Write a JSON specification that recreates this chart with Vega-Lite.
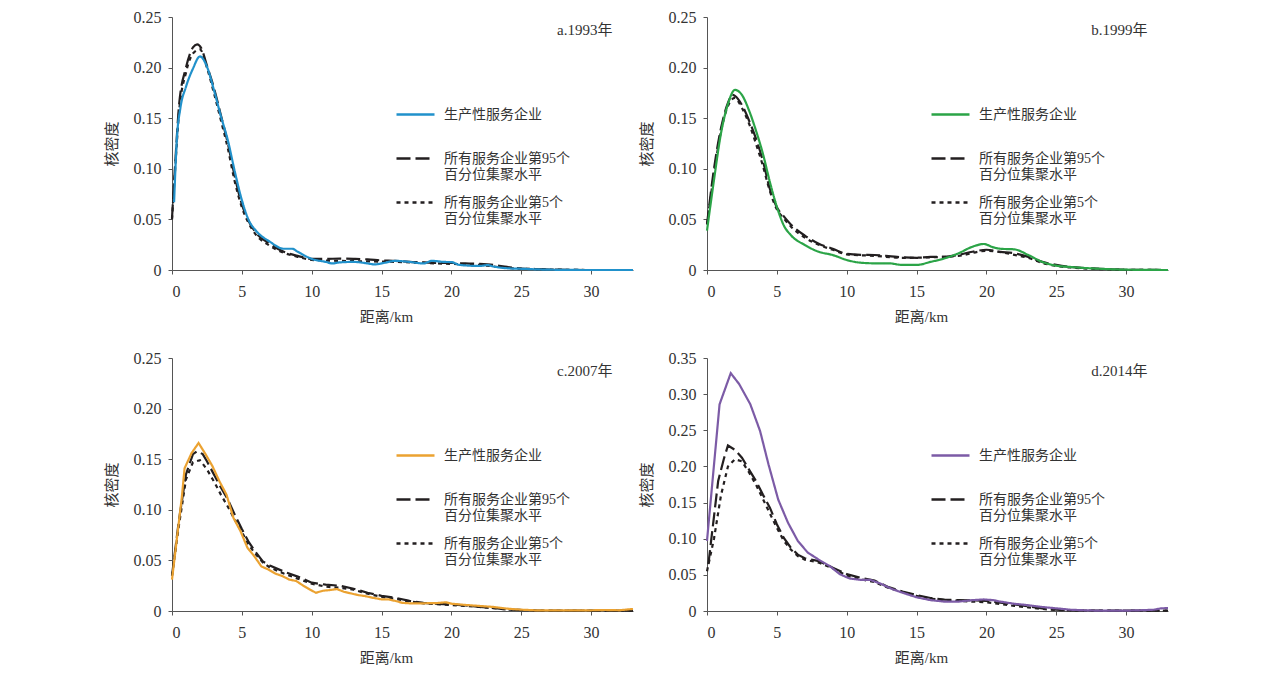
{
  "$schema": "https://vega.github.io/schema/vega-lite/v6.json",
  "description": "Kernel density of distances, four years",
  "background": "white",
  "padding": {"left": 104, "top": 9, "right": 0, "bottom": 0},
  "datasets": {
    "a": [
      {"s": "所有服务企业第95个|百分位集聚水平", "x": 0, "y": 0.051},
      {"s": "所有服务企业第95个|百分位集聚水平", "x": 0.25, "y": 0.11},
      {"s": "所有服务企业第95个|百分位集聚水平", "x": 0.5, "y": 0.162},
      {"s": "所有服务企业第95个|百分位集聚水平", "x": 1, "y": 0.2},
      {"s": "所有服务企业第95个|百分位集聚水平", "x": 1.5, "y": 0.22},
      {"s": "所有服务企业第95个|百分位集聚水平", "x": 1.8, "y": 0.223},
      {"s": "所有服务企业第95个|百分位集聚水平", "x": 2.1, "y": 0.219},
      {"s": "所有服务企业第95个|百分位集聚水平", "x": 2.5, "y": 0.202},
      {"s": "所有服务企业第95个|百分位集聚水平", "x": 3, "y": 0.18},
      {"s": "所有服务企业第95个|百分位集聚水平", "x": 3.5, "y": 0.153},
      {"s": "所有服务企业第95个|百分位集聚水平", "x": 4, "y": 0.125},
      {"s": "所有服务企业第95个|百分位集聚水平", "x": 4.5, "y": 0.092},
      {"s": "所有服务企业第95个|百分位集聚水平", "x": 5, "y": 0.065},
      {"s": "所有服务企业第95个|百分位集聚水平", "x": 5.5, "y": 0.048},
      {"s": "所有服务企业第95个|百分位集聚水平", "x": 6, "y": 0.037},
      {"s": "所有服务企业第95个|百分位集聚水平", "x": 7, "y": 0.026},
      {"s": "所有服务企业第95个|百分位集聚水平", "x": 8, "y": 0.018},
      {"s": "所有服务企业第95个|百分位集聚水平", "x": 9, "y": 0.014},
      {"s": "所有服务企业第95个|百分位集聚水平", "x": 10, "y": 0.011},
      {"s": "所有服务企业第95个|百分位集聚水平", "x": 11, "y": 0.011},
      {"s": "所有服务企业第95个|百分位集聚水平", "x": 12, "y": 0.0112},
      {"s": "所有服务企业第95个|百分位集聚水平", "x": 13, "y": 0.011},
      {"s": "所有服务企业第95个|百分位集聚水平", "x": 14, "y": 0.0105},
      {"s": "所有服务企业第95个|百分位集聚水平", "x": 15, "y": 0.0095},
      {"s": "所有服务企业第95个|百分位集聚水平", "x": 16, "y": 0.009},
      {"s": "所有服务企业第95个|百分位集聚水平", "x": 17, "y": 0.008},
      {"s": "所有服务企业第95个|百分位集聚水平", "x": 18, "y": 0.0075},
      {"s": "所有服务企业第95个|百分位集聚水平", "x": 19, "y": 0.007},
      {"s": "所有服务企业第95个|百分位集聚水平", "x": 20, "y": 0.007},
      {"s": "所有服务企业第95个|百分位集聚水平", "x": 21, "y": 0.0065},
      {"s": "所有服务企业第95个|百分位集聚水平", "x": 22, "y": 0.006},
      {"s": "所有服务企业第95个|百分位集聚水平", "x": 23, "y": 0.005},
      {"s": "所有服务企业第95个|百分位集聚水平", "x": 24, "y": 0.003},
      {"s": "所有服务企业第95个|百分位集聚水平", "x": 25, "y": 0.0015},
      {"s": "所有服务企业第95个|百分位集聚水平", "x": 27, "y": 0.0005},
      {"s": "所有服务企业第95个|百分位集聚水平", "x": 30, "y": 0},
      {"s": "所有服务企业第95个|百分位集聚水平", "x": 33, "y": 0},
      {"s": "所有服务企业第5个|百分位集聚水平", "x": 0, "y": 0.05},
      {"s": "所有服务企业第5个|百分位集聚水平", "x": 0.25, "y": 0.105},
      {"s": "所有服务企业第5个|百分位集聚水平", "x": 0.5, "y": 0.155},
      {"s": "所有服务企业第5个|百分位集聚水平", "x": 1, "y": 0.195},
      {"s": "所有服务企业第5个|百分位集聚水平", "x": 1.5, "y": 0.214},
      {"s": "所有服务企业第5个|百分位集聚水平", "x": 2, "y": 0.218},
      {"s": "所有服务企业第5个|百分位集聚水平", "x": 2.5, "y": 0.2},
      {"s": "所有服务企业第5个|百分位集聚水平", "x": 3, "y": 0.175},
      {"s": "所有服务企业第5个|百分位集聚水平", "x": 3.5, "y": 0.148},
      {"s": "所有服务企业第5个|百分位集聚水平", "x": 4, "y": 0.12},
      {"s": "所有服务企业第5个|百分位集聚水平", "x": 4.5, "y": 0.087},
      {"s": "所有服务企业第5个|百分位集聚水平", "x": 5, "y": 0.062},
      {"s": "所有服务企业第5个|百分位集聚水平", "x": 5.5, "y": 0.046},
      {"s": "所有服务企业第5个|百分位集聚水平", "x": 6, "y": 0.035},
      {"s": "所有服务企业第5个|百分位集聚水平", "x": 7, "y": 0.024},
      {"s": "所有服务企业第5个|百分位集聚水平", "x": 8, "y": 0.017},
      {"s": "所有服务企业第5个|百分位集聚水平", "x": 9, "y": 0.013},
      {"s": "所有服务企业第5个|百分位集聚水平", "x": 10, "y": 0.01},
      {"s": "所有服务企业第5个|百分位集聚水平", "x": 12, "y": 0.009},
      {"s": "所有服务企业第5个|百分位集聚水平", "x": 14, "y": 0.0085},
      {"s": "所有服务企业第5个|百分位集聚水平", "x": 16, "y": 0.008},
      {"s": "所有服务企业第5个|百分位集聚水平", "x": 18, "y": 0.007},
      {"s": "所有服务企业第5个|百分位集聚水平", "x": 20, "y": 0.006},
      {"s": "所有服务企业第5个|百分位集聚水平", "x": 22, "y": 0.005},
      {"s": "所有服务企业第5个|百分位集聚水平", "x": 24, "y": 0.002},
      {"s": "所有服务企业第5个|百分位集聚水平", "x": 26, "y": 0.001},
      {"s": "所有服务企业第5个|百分位集聚水平", "x": 30, "y": 0},
      {"s": "所有服务企业第5个|百分位集聚水平", "x": 33, "y": 0},
      {"s": "生产性服务企业", "x": 0.15, "y": 0.067},
      {"s": "生产性服务企业", "x": 0.35, "y": 0.13},
      {"s": "生产性服务企业", "x": 0.6, "y": 0.16},
      {"s": "生产性服务企业", "x": 1, "y": 0.181},
      {"s": "生产性服务企业", "x": 1.5, "y": 0.199},
      {"s": "生产性服务企业", "x": 2, "y": 0.211},
      {"s": "生产性服务企业", "x": 2.5, "y": 0.201},
      {"s": "生产性服务企业", "x": 3, "y": 0.178},
      {"s": "生产性服务企业", "x": 3.5, "y": 0.152},
      {"s": "生产性服务企业", "x": 4, "y": 0.128},
      {"s": "生产性服务企业", "x": 4.5, "y": 0.097},
      {"s": "生产性服务企业", "x": 5, "y": 0.069},
      {"s": "生产性服务企业", "x": 5.5, "y": 0.049},
      {"s": "生产性服务企业", "x": 6, "y": 0.039},
      {"s": "生产性服务企业", "x": 7, "y": 0.028},
      {"s": "生产性服务企业", "x": 8, "y": 0.021},
      {"s": "生产性服务企业", "x": 8.6, "y": 0.021},
      {"s": "生产性服务企业", "x": 9, "y": 0.018},
      {"s": "生产性服务企业", "x": 10, "y": 0.011},
      {"s": "生产性服务企业", "x": 11, "y": 0.008},
      {"s": "生产性服务企业", "x": 11.5, "y": 0.0065},
      {"s": "生产性服务企业", "x": 12, "y": 0.0075},
      {"s": "生产性服务企业", "x": 13, "y": 0.008},
      {"s": "生产性服务企业", "x": 14, "y": 0.0065},
      {"s": "生产性服务企业", "x": 14.5, "y": 0.0055},
      {"s": "生产性服务企业", "x": 15, "y": 0.0065},
      {"s": "生产性服务企业", "x": 16, "y": 0.009},
      {"s": "生产性服务企业", "x": 17, "y": 0.008},
      {"s": "生产性服务企业", "x": 18, "y": 0.0065},
      {"s": "生产性服务企业", "x": 18.6, "y": 0.009},
      {"s": "生产性服务企业", "x": 19.5, "y": 0.008},
      {"s": "生产性服务企业", "x": 20, "y": 0.0078},
      {"s": "生产性服务企业", "x": 20.6, "y": 0.005},
      {"s": "生产性服务企业", "x": 22, "y": 0.004},
      {"s": "生产性服务企业", "x": 22.6, "y": 0.0048},
      {"s": "生产性服务企业", "x": 23, "y": 0.0035},
      {"s": "生产性服务企业", "x": 24, "y": 0.0017},
      {"s": "生产性服务企业", "x": 25, "y": 0.0012},
      {"s": "生产性服务企业", "x": 27, "y": 0.0003},
      {"s": "生产性服务企业", "x": 30, "y": 0},
      {"s": "生产性服务企业", "x": 33, "y": 0}
    ],
    "b": [
      {"s": "所有服务企业第95个|百分位集聚水平", "x": 0, "y": 0.045},
      {"s": "所有服务企业第95个|百分位集聚水平", "x": 0.5, "y": 0.1},
      {"s": "所有服务企业第95个|百分位集聚水平", "x": 1, "y": 0.14},
      {"s": "所有服务企业第95个|百分位集聚水平", "x": 1.5, "y": 0.165},
      {"s": "所有服务企业第95个|百分位集聚水平", "x": 1.8, "y": 0.173},
      {"s": "所有服务企业第95个|百分位集聚水平", "x": 2, "y": 0.172},
      {"s": "所有服务企业第95个|百分位集聚水平", "x": 2.5, "y": 0.163},
      {"s": "所有服务企业第95个|百分位集聚水平", "x": 3, "y": 0.148},
      {"s": "所有服务企业第95个|百分位集聚水平", "x": 3.5, "y": 0.13},
      {"s": "所有服务企业第95个|百分位集聚水平", "x": 4, "y": 0.108},
      {"s": "所有服务企业第95个|百分位集聚水平", "x": 4.5, "y": 0.08},
      {"s": "所有服务企业第95个|百分位集聚水平", "x": 5, "y": 0.062},
      {"s": "所有服务企业第95个|百分位集聚水平", "x": 5.5, "y": 0.053},
      {"s": "所有服务企业第95个|百分位集聚水平", "x": 6, "y": 0.045},
      {"s": "所有服务企业第95个|百分位集聚水平", "x": 7, "y": 0.034},
      {"s": "所有服务企业第95个|百分位集聚水平", "x": 8, "y": 0.026},
      {"s": "所有服务企业第95个|百分位集聚水平", "x": 9, "y": 0.021},
      {"s": "所有服务企业第95个|百分位集聚水平", "x": 10, "y": 0.016},
      {"s": "所有服务企业第95个|百分位集聚水平", "x": 11, "y": 0.015},
      {"s": "所有服务企业第95个|百分位集聚水平", "x": 12, "y": 0.0148},
      {"s": "所有服务企业第95个|百分位集聚水平", "x": 13, "y": 0.0138},
      {"s": "所有服务企业第95个|百分位集聚水平", "x": 14, "y": 0.0125},
      {"s": "所有服务企业第95个|百分位集聚水平", "x": 15, "y": 0.012},
      {"s": "所有服务企业第95个|百分位集聚水平", "x": 16, "y": 0.013},
      {"s": "所有服务企业第95个|百分位集聚水平", "x": 17, "y": 0.013},
      {"s": "所有服务企业第95个|百分位集聚水平", "x": 18, "y": 0.015},
      {"s": "所有服务企业第95个|百分位集聚水平", "x": 19, "y": 0.018},
      {"s": "所有服务企业第95个|百分位集聚水平", "x": 20, "y": 0.02},
      {"s": "所有服务企业第95个|百分位集聚水平", "x": 21, "y": 0.018},
      {"s": "所有服务企业第95个|百分位集聚水平", "x": 22, "y": 0.0165},
      {"s": "所有服务企业第95个|百分位集聚水平", "x": 23, "y": 0.013},
      {"s": "所有服务企业第95个|百分位集聚水平", "x": 24, "y": 0.008},
      {"s": "所有服务企业第95个|百分位集聚水平", "x": 25, "y": 0.005},
      {"s": "所有服务企业第95个|百分位集聚水平", "x": 26, "y": 0.003},
      {"s": "所有服务企业第95个|百分位集聚水平", "x": 27, "y": 0.002},
      {"s": "所有服务企业第95个|百分位集聚水平", "x": 28, "y": 0.0013},
      {"s": "所有服务企业第95个|百分位集聚水平", "x": 30, "y": 0.0003},
      {"s": "所有服务企业第95个|百分位集聚水平", "x": 33, "y": 0},
      {"s": "所有服务企业第5个|百分位集聚水平", "x": 0, "y": 0.045},
      {"s": "所有服务企业第5个|百分位集聚水平", "x": 0.5, "y": 0.095},
      {"s": "所有服务企业第5个|百分位集聚水平", "x": 1, "y": 0.137},
      {"s": "所有服务企业第5个|百分位集聚水平", "x": 1.5, "y": 0.162},
      {"s": "所有服务企业第5个|百分位集聚水平", "x": 2, "y": 0.17},
      {"s": "所有服务企业第5个|百分位集聚水平", "x": 2.5, "y": 0.16},
      {"s": "所有服务企业第5个|百分位集聚水平", "x": 3, "y": 0.145},
      {"s": "所有服务企业第5个|百分位集聚水平", "x": 3.5, "y": 0.125},
      {"s": "所有服务企业第5个|百分位集聚水平", "x": 4, "y": 0.103},
      {"s": "所有服务企业第5个|百分位集聚水平", "x": 4.5, "y": 0.078},
      {"s": "所有服务企业第5个|百分位集聚水平", "x": 5, "y": 0.06},
      {"s": "所有服务企业第5个|百分位集聚水平", "x": 5.5, "y": 0.051},
      {"s": "所有服务企业第5个|百分位集聚水平", "x": 6, "y": 0.043},
      {"s": "所有服务企业第5个|百分位集聚水平", "x": 7, "y": 0.032},
      {"s": "所有服务企业第5个|百分位集聚水平", "x": 8, "y": 0.025},
      {"s": "所有服务企业第5个|百分位集聚水平", "x": 9, "y": 0.02},
      {"s": "所有服务企业第5个|百分位集聚水平", "x": 10, "y": 0.0155},
      {"s": "所有服务企业第5个|百分位集聚水平", "x": 12, "y": 0.014},
      {"s": "所有服务企业第5个|百分位集聚水平", "x": 14, "y": 0.012},
      {"s": "所有服务企业第5个|百分位集聚水平", "x": 16, "y": 0.0125},
      {"s": "所有服务企业第5个|百分位集聚水平", "x": 18, "y": 0.014},
      {"s": "所有服务企业第5个|百分位集聚水平", "x": 20, "y": 0.019},
      {"s": "所有服务企业第5个|百分位集聚水平", "x": 22, "y": 0.015},
      {"s": "所有服务企业第5个|百分位集聚水平", "x": 23, "y": 0.012},
      {"s": "所有服务企业第5个|百分位集聚水平", "x": 24, "y": 0.007},
      {"s": "所有服务企业第5个|百分位集聚水平", "x": 25, "y": 0.004},
      {"s": "所有服务企业第5个|百分位集聚水平", "x": 26, "y": 0.0025},
      {"s": "所有服务企业第5个|百分位集聚水平", "x": 28, "y": 0.001},
      {"s": "所有服务企业第5个|百分位集聚水平", "x": 30, "y": 0.0002},
      {"s": "所有服务企业第5个|百分位集聚水平", "x": 33, "y": 0},
      {"s": "生产性服务企业", "x": 0, "y": 0.039},
      {"s": "生产性服务企业", "x": 0.5, "y": 0.089},
      {"s": "生产性服务企业", "x": 1, "y": 0.135},
      {"s": "生产性服务企业", "x": 1.5, "y": 0.164},
      {"s": "生产性服务企业", "x": 2, "y": 0.178},
      {"s": "生产性服务企业", "x": 2.5, "y": 0.173},
      {"s": "生产性服务企业", "x": 3, "y": 0.158},
      {"s": "生产性服务企业", "x": 3.5, "y": 0.138},
      {"s": "生产性服务企业", "x": 4, "y": 0.115},
      {"s": "生产性服务企业", "x": 4.5, "y": 0.087},
      {"s": "生产性服务企业", "x": 5, "y": 0.0625},
      {"s": "生产性服务企业", "x": 5.5, "y": 0.044},
      {"s": "生产性服务企业", "x": 6, "y": 0.0345},
      {"s": "生产性服务企业", "x": 7, "y": 0.0247},
      {"s": "生产性服务企业", "x": 8, "y": 0.018},
      {"s": "生产性服务企业", "x": 9, "y": 0.0148},
      {"s": "生产性服务企业", "x": 10, "y": 0.0099},
      {"s": "生产性服务企业", "x": 11, "y": 0.0072},
      {"s": "生产性服务企业", "x": 12, "y": 0.0066},
      {"s": "生产性服务企业", "x": 13, "y": 0.0066},
      {"s": "生产性服务企业", "x": 14, "y": 0.005},
      {"s": "生产性服务企业", "x": 15, "y": 0.005},
      {"s": "生产性服务企业", "x": 16, "y": 0.008},
      {"s": "生产性服务企业", "x": 17, "y": 0.0115},
      {"s": "生产性服务企业", "x": 18, "y": 0.0165},
      {"s": "生产性服务企业", "x": 19, "y": 0.023},
      {"s": "生产性服务企业", "x": 19.8, "y": 0.0257},
      {"s": "生产性服务企业", "x": 20.5, "y": 0.0224},
      {"s": "生产性服务企业", "x": 21, "y": 0.021},
      {"s": "生产性服务企业", "x": 22, "y": 0.0204},
      {"s": "生产性服务企业", "x": 23, "y": 0.0148},
      {"s": "生产性服务企业", "x": 24, "y": 0.008},
      {"s": "生产性服务企业", "x": 25, "y": 0.0043},
      {"s": "生产性服务企业", "x": 26, "y": 0.003},
      {"s": "生产性服务企业", "x": 27, "y": 0.002},
      {"s": "生产性服务企业", "x": 28, "y": 0.0013},
      {"s": "生产性服务企业", "x": 30, "y": 0.0003},
      {"s": "生产性服务企业", "x": 33, "y": 0}
    ],
    "c": [
      {"s": "所有服务企业第95个|百分位集聚水平", "x": 0, "y": 0.035},
      {"s": "所有服务企业第95个|百分位集聚水平", "x": 0.5, "y": 0.09},
      {"s": "所有服务企业第95个|百分位集聚水平", "x": 1, "y": 0.135},
      {"s": "所有服务企业第95个|百分位集聚水平", "x": 1.5, "y": 0.155},
      {"s": "所有服务企业第95个|百分位集聚水平", "x": 1.8, "y": 0.158},
      {"s": "所有服务企业第95个|百分位集聚水平", "x": 2.2, "y": 0.155},
      {"s": "所有服务企业第95个|百分位集聚水平", "x": 2.5, "y": 0.148},
      {"s": "所有服务企业第95个|百分位集聚水平", "x": 3, "y": 0.135},
      {"s": "所有服务企业第95个|百分位集聚水平", "x": 3.5, "y": 0.122},
      {"s": "所有服务企业第95个|百分位集聚水平", "x": 4, "y": 0.11},
      {"s": "所有服务企业第95个|百分位集聚水平", "x": 4.5, "y": 0.095},
      {"s": "所有服务企业第95个|百分位集聚水平", "x": 5, "y": 0.081},
      {"s": "所有服务企业第95个|百分位集聚水平", "x": 5.5, "y": 0.068},
      {"s": "所有服务企业第95个|百分位集聚水平", "x": 6, "y": 0.058},
      {"s": "所有服务企业第95个|百分位集聚水平", "x": 6.5, "y": 0.049},
      {"s": "所有服务企业第95个|百分位集聚水平", "x": 7, "y": 0.045},
      {"s": "所有服务企业第95个|百分位集聚水平", "x": 8, "y": 0.039},
      {"s": "所有服务企业第95个|百分位集聚水平", "x": 9, "y": 0.034},
      {"s": "所有服务企业第95个|百分位集聚水平", "x": 10, "y": 0.028},
      {"s": "所有服务企业第95个|百分位集聚水平", "x": 11, "y": 0.026},
      {"s": "所有服务企业第95个|百分位集聚水平", "x": 12, "y": 0.025},
      {"s": "所有服务企业第95个|百分位集聚水平", "x": 13, "y": 0.022},
      {"s": "所有服务企业第95个|百分位集聚水平", "x": 14, "y": 0.018},
      {"s": "所有服务企业第95个|百分位集聚水平", "x": 15, "y": 0.015},
      {"s": "所有服务企业第95个|百分位集聚水平", "x": 16, "y": 0.013},
      {"s": "所有服务企业第95个|百分位集聚水平", "x": 17, "y": 0.01},
      {"s": "所有服务企业第95个|百分位集聚水平", "x": 18, "y": 0.008},
      {"s": "所有服务企业第95个|百分位集聚水平", "x": 19, "y": 0.007},
      {"s": "所有服务企业第95个|百分位集聚水平", "x": 20, "y": 0.0065},
      {"s": "所有服务企业第95个|百分位集聚水平", "x": 21, "y": 0.0055},
      {"s": "所有服务企业第95个|百分位集聚水平", "x": 22, "y": 0.004},
      {"s": "所有服务企业第95个|百分位集聚水平", "x": 23, "y": 0.003},
      {"s": "所有服务企业第95个|百分位集聚水平", "x": 24, "y": 0.0015},
      {"s": "所有服务企业第95个|百分位集聚水平", "x": 25, "y": 0.0008},
      {"s": "所有服务企业第95个|百分位集聚水平", "x": 27, "y": 0.0003},
      {"s": "所有服务企业第95个|百分位集聚水平", "x": 30, "y": 0.0003},
      {"s": "所有服务企业第95个|百分位集聚水平", "x": 33, "y": 0.0003},
      {"s": "所有服务企业第5个|百分位集聚水平", "x": 0, "y": 0.035},
      {"s": "所有服务企业第5个|百分位集聚水平", "x": 0.5, "y": 0.085},
      {"s": "所有服务企业第5个|百分位集聚水平", "x": 1, "y": 0.13},
      {"s": "所有服务企业第5个|百分位集聚水平", "x": 1.5, "y": 0.147},
      {"s": "所有服务企业第5个|百分位集聚水平", "x": 2, "y": 0.149},
      {"s": "所有服务企业第5个|百分位集聚水平", "x": 2.5, "y": 0.14},
      {"s": "所有服务企业第5个|百分位集聚水平", "x": 3, "y": 0.128},
      {"s": "所有服务企业第5个|百分位集聚水平", "x": 3.5, "y": 0.115},
      {"s": "所有服务企业第5个|百分位集聚水平", "x": 4, "y": 0.103},
      {"s": "所有服务企业第5个|百分位集聚水平", "x": 4.5, "y": 0.09},
      {"s": "所有服务企业第5个|百分位集聚水平", "x": 5, "y": 0.078},
      {"s": "所有服务企业第5个|百分位集聚水平", "x": 5.5, "y": 0.065},
      {"s": "所有服务企业第5个|百分位集聚水平", "x": 6, "y": 0.056},
      {"s": "所有服务企业第5个|百分位集聚水平", "x": 6.5, "y": 0.048},
      {"s": "所有服务企业第5个|百分位集聚水平", "x": 7, "y": 0.043},
      {"s": "所有服务企业第5个|百分位集聚水平", "x": 8, "y": 0.037},
      {"s": "所有服务企业第5个|百分位集聚水平", "x": 9, "y": 0.032},
      {"s": "所有服务企业第5个|百分位集聚水平", "x": 10, "y": 0.027},
      {"s": "所有服务企业第5个|百分位集聚水平", "x": 11, "y": 0.024},
      {"s": "所有服务企业第5个|百分位集聚水平", "x": 12, "y": 0.023},
      {"s": "所有服务企业第5个|百分位集聚水平", "x": 13, "y": 0.021},
      {"s": "所有服务企业第5个|百分位集聚水平", "x": 14, "y": 0.017},
      {"s": "所有服务企业第5个|百分位集聚水平", "x": 15, "y": 0.014},
      {"s": "所有服务企业第5个|百分位集聚水平", "x": 16, "y": 0.012},
      {"s": "所有服务企业第5个|百分位集聚水平", "x": 17, "y": 0.0095},
      {"s": "所有服务企业第5个|百分位集聚水平", "x": 18, "y": 0.0075},
      {"s": "所有服务企业第5个|百分位集聚水平", "x": 20, "y": 0.006},
      {"s": "所有服务企业第5个|百分位集聚水平", "x": 22, "y": 0.004},
      {"s": "所有服务企业第5个|百分位集聚水平", "x": 24, "y": 0.0015},
      {"s": "所有服务企业第5个|百分位集聚水平", "x": 26, "y": 0.0005},
      {"s": "所有服务企业第5个|百分位集聚水平", "x": 30, "y": 0.0003},
      {"s": "所有服务企业第5个|百分位集聚水平", "x": 33, "y": 0.0003},
      {"s": "生产性服务企业", "x": 0, "y": 0.031},
      {"s": "生产性服务企业", "x": 0.7, "y": 0.112},
      {"s": "生产性服务企业", "x": 0.9, "y": 0.141},
      {"s": "生产性服务企业", "x": 1.4, "y": 0.156},
      {"s": "生产性服务企业", "x": 1.9, "y": 0.166},
      {"s": "生产性服务企业", "x": 2.4, "y": 0.155},
      {"s": "生产性服务企业", "x": 2.9, "y": 0.143},
      {"s": "生产性服务企业", "x": 3.4, "y": 0.128},
      {"s": "生产性服务企业", "x": 3.9, "y": 0.115},
      {"s": "生产性服务企业", "x": 4.4, "y": 0.092},
      {"s": "生产性服务企业", "x": 4.9, "y": 0.079},
      {"s": "生产性服务企业", "x": 5.4, "y": 0.0625},
      {"s": "生产性服务企业", "x": 5.9, "y": 0.054},
      {"s": "生产性服务企业", "x": 6.4, "y": 0.044},
      {"s": "生产性服务企业", "x": 6.9, "y": 0.041},
      {"s": "生产性服务企业", "x": 7.4, "y": 0.037},
      {"s": "生产性服务企业", "x": 7.9, "y": 0.0345},
      {"s": "生产性服务企业", "x": 8.4, "y": 0.031},
      {"s": "生产性服务企业", "x": 8.9, "y": 0.0296},
      {"s": "生产性服务企业", "x": 9.4, "y": 0.025},
      {"s": "生产性服务企业", "x": 9.9, "y": 0.021},
      {"s": "生产性服务企业", "x": 10.3, "y": 0.018},
      {"s": "生产性服务企业", "x": 10.8, "y": 0.02},
      {"s": "生产性服务企业", "x": 11.3, "y": 0.0207},
      {"s": "生产性服务企业", "x": 11.8, "y": 0.0217},
      {"s": "生产性服务企业", "x": 12.3, "y": 0.019},
      {"s": "生产性服务企业", "x": 12.8, "y": 0.0174},
      {"s": "生产性服务企业", "x": 13.3, "y": 0.0158},
      {"s": "生产性服务企业", "x": 13.8, "y": 0.0148},
      {"s": "生产性服务企业", "x": 14.4, "y": 0.013},
      {"s": "生产性服务企业", "x": 15, "y": 0.0115},
      {"s": "生产性服务企业", "x": 15.5, "y": 0.0115},
      {"s": "生产性服务企业", "x": 16, "y": 0.0099},
      {"s": "生产性服务企业", "x": 16.5, "y": 0.008},
      {"s": "生产性服务企业", "x": 17, "y": 0.0076},
      {"s": "生产性服务企业", "x": 18, "y": 0.0076},
      {"s": "生产性服务企业", "x": 19, "y": 0.0079},
      {"s": "生产性服务企业", "x": 19.6, "y": 0.0086},
      {"s": "生产性服务企业", "x": 20, "y": 0.0072},
      {"s": "生产性服务企业", "x": 21, "y": 0.006},
      {"s": "生产性服务企业", "x": 22, "y": 0.005},
      {"s": "生产性服务企业", "x": 23, "y": 0.004},
      {"s": "生产性服务企业", "x": 24, "y": 0.0023},
      {"s": "生产性服务企业", "x": 25, "y": 0.0013},
      {"s": "生产性服务企业", "x": 26, "y": 0.0007},
      {"s": "生产性服务企业", "x": 28, "y": 0.0007},
      {"s": "生产性服务企业", "x": 30, "y": 0.0007},
      {"s": "生产性服务企业", "x": 31, "y": 0.001},
      {"s": "生产性服务企业", "x": 32, "y": 0.0007},
      {"s": "生产性服务企业", "x": 33, "y": 0.002}
    ],
    "d": [
      {"s": "所有服务企业第95个|百分位集聚水平", "x": 0.1, "y": 0.065},
      {"s": "所有服务企业第95个|百分位集聚水平", "x": 0.8, "y": 0.18},
      {"s": "所有服务企业第95个|百分位集聚水平", "x": 1.2, "y": 0.21},
      {"s": "所有服务企业第95个|百分位集聚水平", "x": 1.5, "y": 0.229},
      {"s": "所有服务企业第95个|百分位集聚水平", "x": 2, "y": 0.223},
      {"s": "所有服务企业第95个|百分位集聚水平", "x": 2.5, "y": 0.212},
      {"s": "所有服务企业第95个|百分位集聚水平", "x": 3, "y": 0.196},
      {"s": "所有服务企业第95个|百分位集聚水平", "x": 3.5, "y": 0.18},
      {"s": "所有服务企业第95个|百分位集聚水平", "x": 4, "y": 0.161},
      {"s": "所有服务企业第95个|百分位集聚水平", "x": 4.5, "y": 0.143},
      {"s": "所有服务企业第95个|百分位集聚水平", "x": 5, "y": 0.12},
      {"s": "所有服务企业第95个|百分位集聚水平", "x": 5.5, "y": 0.101},
      {"s": "所有服务企业第95个|百分位集聚水平", "x": 6, "y": 0.0876},
      {"s": "所有服务企业第95个|百分位集聚水平", "x": 6.5, "y": 0.078},
      {"s": "所有服务企业第95个|百分位集聚水平", "x": 7, "y": 0.073},
      {"s": "所有服务企业第95个|百分位集聚水平", "x": 8, "y": 0.069},
      {"s": "所有服务企业第95个|百分位集聚水平", "x": 9, "y": 0.06},
      {"s": "所有服务企业第95个|百分位集聚水平", "x": 10, "y": 0.051},
      {"s": "所有服务企业第95个|百分位集聚水平", "x": 11, "y": 0.046},
      {"s": "所有服务企业第95个|百分位集聚水平", "x": 12, "y": 0.042},
      {"s": "所有服务企业第95个|百分位集聚水平", "x": 13, "y": 0.033},
      {"s": "所有服务企业第95个|百分位集聚水平", "x": 14, "y": 0.027},
      {"s": "所有服务企业第95个|百分位集聚水平", "x": 15, "y": 0.022},
      {"s": "所有服务企业第95个|百分位集聚水平", "x": 16, "y": 0.018},
      {"s": "所有服务企业第95个|百分位集聚水平", "x": 17, "y": 0.0157},
      {"s": "所有服务企业第95个|百分位集聚水平", "x": 18, "y": 0.015},
      {"s": "所有服务企业第95个|百分位集聚水平", "x": 19, "y": 0.0147},
      {"s": "所有服务企业第95个|百分位集聚水平", "x": 20, "y": 0.0138},
      {"s": "所有服务企业第95个|百分位集聚水平", "x": 21, "y": 0.0115},
      {"s": "所有服务企业第95个|百分位集聚水平", "x": 22, "y": 0.0092},
      {"s": "所有服务企业第95个|百分位集聚水平", "x": 23, "y": 0.0065},
      {"s": "所有服务企业第95个|百分位集聚水平", "x": 24, "y": 0.0037},
      {"s": "所有服务企业第95个|百分位集聚水平", "x": 25, "y": 0.0018},
      {"s": "所有服务企业第95个|百分位集聚水平", "x": 26, "y": 0.001},
      {"s": "所有服务企业第95个|百分位集聚水平", "x": 28, "y": 0.0005},
      {"s": "所有服务企业第95个|百分位集聚水平", "x": 30, "y": 0.0005},
      {"s": "所有服务企业第95个|百分位集聚水平", "x": 33, "y": 0.0005},
      {"s": "所有服务企业第5个|百分位集聚水平", "x": 0, "y": 0.055},
      {"s": "所有服务企业第5个|百分位集聚水平", "x": 0.5, "y": 0.1},
      {"s": "所有服务企业第5个|百分位集聚水平", "x": 1, "y": 0.16},
      {"s": "所有服务企业第5个|百分位集聚水平", "x": 1.5, "y": 0.2},
      {"s": "所有服务企业第5个|百分位集聚水平", "x": 2, "y": 0.21},
      {"s": "所有服务企业第5个|百分位集聚水平", "x": 2.5, "y": 0.207},
      {"s": "所有服务企业第5个|百分位集聚水平", "x": 3, "y": 0.192},
      {"s": "所有服务企业第5个|百分位集聚水平", "x": 3.5, "y": 0.175},
      {"s": "所有服务企业第5个|百分位集聚水平", "x": 4, "y": 0.155},
      {"s": "所有服务企业第5个|百分位集聚水平", "x": 4.5, "y": 0.135},
      {"s": "所有服务企业第5个|百分位集聚水平", "x": 5, "y": 0.115},
      {"s": "所有服务企业第5个|百分位集聚水平", "x": 5.5, "y": 0.097},
      {"s": "所有服务企业第5个|百分位集聚水平", "x": 6, "y": 0.085},
      {"s": "所有服务企业第5个|百分位集聚水平", "x": 6.5, "y": 0.076},
      {"s": "所有服务企业第5个|百分位集聚水平", "x": 7, "y": 0.071},
      {"s": "所有服务企业第5个|百分位集聚水平", "x": 8, "y": 0.067},
      {"s": "所有服务企业第5个|百分位集聚水平", "x": 9, "y": 0.059},
      {"s": "所有服务企业第5个|百分位集聚水平", "x": 10, "y": 0.049},
      {"s": "所有服务企业第5个|百分位集聚水平", "x": 11, "y": 0.044},
      {"s": "所有服务企业第5个|百分位集聚水平", "x": 12, "y": 0.04},
      {"s": "所有服务企业第5个|百分位集聚水平", "x": 13, "y": 0.032},
      {"s": "所有服务企业第5个|百分位集聚水平", "x": 14, "y": 0.026},
      {"s": "所有服务企业第5个|百分位集聚水平", "x": 15, "y": 0.021},
      {"s": "所有服务企业第5个|百分位集聚水平", "x": 16, "y": 0.017},
      {"s": "所有服务企业第5个|百分位集聚水平", "x": 17, "y": 0.015},
      {"s": "所有服务企业第5个|百分位集聚水平", "x": 18, "y": 0.014},
      {"s": "所有服务企业第5个|百分位集聚水平", "x": 19, "y": 0.013},
      {"s": "所有服务企业第5个|百分位集聚水平", "x": 20, "y": 0.012},
      {"s": "所有服务企业第5个|百分位集聚水平", "x": 21, "y": 0.0095},
      {"s": "所有服务企业第5个|百分位集聚水平", "x": 22, "y": 0.007},
      {"s": "所有服务企业第5个|百分位集聚水平", "x": 23, "y": 0.005},
      {"s": "所有服务企业第5个|百分位集聚水平", "x": 24, "y": 0.0028},
      {"s": "所有服务企业第5个|百分位集聚水平", "x": 25, "y": 0.0012},
      {"s": "所有服务企业第5个|百分位集聚水平", "x": 27, "y": 0.0005},
      {"s": "所有服务企业第5个|百分位集聚水平", "x": 30, "y": 0.0005},
      {"s": "所有服务企业第5个|百分位集聚水平", "x": 33, "y": 0.0005},
      {"s": "生产性服务企业", "x": 0, "y": 0.097},
      {"s": "生产性服务企业", "x": 0.9, "y": 0.286},
      {"s": "生产性服务企业", "x": 1.7, "y": 0.329},
      {"s": "生产性服务企业", "x": 2.3, "y": 0.314},
      {"s": "生产性服务企业", "x": 3.1, "y": 0.286},
      {"s": "生产性服务企业", "x": 3.8, "y": 0.249},
      {"s": "生产性服务企业", "x": 4.4, "y": 0.203},
      {"s": "生产性服务企业", "x": 5.1, "y": 0.154},
      {"s": "生产性服务企业", "x": 5.8, "y": 0.122},
      {"s": "生产性服务企业", "x": 6.5, "y": 0.097},
      {"s": "生产性服务企业", "x": 7.2, "y": 0.081},
      {"s": "生产性服务企业", "x": 8, "y": 0.071},
      {"s": "生产性服务企业", "x": 8.8, "y": 0.062},
      {"s": "生产性服务企业", "x": 9.5, "y": 0.051},
      {"s": "生产性服务企业", "x": 10.2, "y": 0.045},
      {"s": "生产性服务企业", "x": 11, "y": 0.043},
      {"s": "生产性服务企业", "x": 11.7, "y": 0.043},
      {"s": "生产性服务企业", "x": 12.4, "y": 0.038},
      {"s": "生产性服务企业", "x": 13.3, "y": 0.03},
      {"s": "生产性服务企业", "x": 14.2, "y": 0.024},
      {"s": "生产性服务企业", "x": 15, "y": 0.019},
      {"s": "生产性服务企业", "x": 16, "y": 0.015},
      {"s": "生产性服务企业", "x": 17, "y": 0.013},
      {"s": "生产性服务企业", "x": 18, "y": 0.013},
      {"s": "生产性服务企业", "x": 19, "y": 0.015},
      {"s": "生产性服务企业", "x": 19.8, "y": 0.016},
      {"s": "生产性服务企业", "x": 20.5, "y": 0.015},
      {"s": "生产性服务企业", "x": 21, "y": 0.013},
      {"s": "生产性服务企业", "x": 22, "y": 0.01},
      {"s": "生产性服务企业", "x": 23, "y": 0.008},
      {"s": "生产性服务企业", "x": 24, "y": 0.0055},
      {"s": "生产性服务企业", "x": 25, "y": 0.0037},
      {"s": "生产性服务企业", "x": 26, "y": 0.0018},
      {"s": "生产性服务企业", "x": 27, "y": 0.001},
      {"s": "生产性服务企业", "x": 28, "y": 0.0005},
      {"s": "生产性服务企业", "x": 30, "y": 0.0005},
      {"s": "生产性服务企业", "x": 31, "y": 0.001},
      {"s": "生产性服务企业", "x": 32, "y": 0.0018},
      {"s": "生产性服务企业", "x": 32.5, "y": 0.0037},
      {"s": "生产性服务企业", "x": 33, "y": 0.004}
    ]
  },
  "columns": 2,
  "spacing": {"row": 88, "column": 74},
  "bounds": "flush",
  "resolve": {
    "scale": {"x": "independent", "y": "independent", "color": "independent", "strokeDash": "independent"},
    "legend": {"color": "independent", "strokeDash": "independent"}
  },
  "concat": [
    {
      "width": 461, "height": 253,
      "data": {"name": "a"},
      "title": {"text": "a.1993年"},
      "mark": {"type": "line", "interpolate": "monotone", "strokeWidth": 2.2},
      "encoding": {
        "x": {"field": "x", "type": "quantitative", "scale": {"domain": [0, 33], "nice": false}, "axis": {"values": [0, 5, 10, 15, 20, 25, 30], "title": "距离/km"}},
        "y": {"field": "y", "type": "quantitative", "scale": {"domain": [0, 0.25], "nice": false}, "axis": {"values": [0, 0.05, 0.1, 0.15, 0.2, 0.25], "title": "核密度", "labelExpr": "datum.value === 0 ? '0' : format(datum.value, '.2f')"}},
        "color": {"field": "s", "type": "nominal", "scale": {"domain": ["生产性服务企业", "所有服务企业第95个|百分位集聚水平", "所有服务企业第5个|百分位集聚水平"], "range": ["#2191cb", "#231f20", "#231f20"]}, "legend": {"title": null, "orient": "none", "legendX": 223, "legendY": 77, "labelExpr": "split(datum.label, '|')"}},
        "strokeDash": {"field": "s", "type": "nominal", "scale": {"domain": ["生产性服务企业", "所有服务企业第95个|百分位集聚水平", "所有服务企业第5个|百分位集聚水平"], "range": [[1, 0], [14, 5], [4, 4]]}, "legend": {"title": null, "orient": "none", "legendX": 223, "legendY": 77, "labelExpr": "split(datum.label, '|')"}}
      }
    },
    {
      "width": 461, "height": 253,
      "data": {"name": "b"},
      "title": {"text": "b.1999年"},
      "mark": {"type": "line", "interpolate": "monotone", "strokeWidth": 2.2},
      "encoding": {
        "x": {"field": "x", "type": "quantitative", "scale": {"domain": [0, 33], "nice": false}, "axis": {"values": [0, 5, 10, 15, 20, 25, 30], "title": "距离/km"}},
        "y": {"field": "y", "type": "quantitative", "scale": {"domain": [0, 0.25], "nice": false}, "axis": {"values": [0, 0.05, 0.1, 0.15, 0.2, 0.25], "title": "核密度", "labelExpr": "datum.value === 0 ? '0' : format(datum.value, '.2f')"}},
        "color": {"field": "s", "type": "nominal", "scale": {"domain": ["生产性服务企业", "所有服务企业第95个|百分位集聚水平", "所有服务企业第5个|百分位集聚水平"], "range": ["#2ba447", "#231f20", "#231f20"]}, "legend": {"title": null, "orient": "none", "legendX": 223, "legendY": 77, "labelExpr": "split(datum.label, '|')"}},
        "strokeDash": {"field": "s", "type": "nominal", "scale": {"domain": ["生产性服务企业", "所有服务企业第95个|百分位集聚水平", "所有服务企业第5个|百分位集聚水平"], "range": [[1, 0], [14, 5], [4, 4]]}, "legend": {"title": null, "orient": "none", "legendX": 223, "legendY": 77, "labelExpr": "split(datum.label, '|')"}}
      }
    },
    {
      "width": 461, "height": 253,
      "data": {"name": "c"},
      "title": {"text": "c.2007年"},
      "mark": {"type": "line", "interpolate": "linear", "strokeWidth": 2.2},
      "encoding": {
        "x": {"field": "x", "type": "quantitative", "scale": {"domain": [0, 33], "nice": false}, "axis": {"values": [0, 5, 10, 15, 20, 25, 30], "title": "距离/km"}},
        "y": {"field": "y", "type": "quantitative", "scale": {"domain": [0, 0.25], "nice": false}, "axis": {"values": [0, 0.05, 0.1, 0.15, 0.2, 0.25], "title": "核密度", "labelExpr": "datum.value === 0 ? '0' : format(datum.value, '.2f')"}},
        "color": {"field": "s", "type": "nominal", "scale": {"domain": ["生产性服务企业", "所有服务企业第95个|百分位集聚水平", "所有服务企业第5个|百分位集聚水平"], "range": ["#eba231", "#231f20", "#231f20"]}, "legend": {"title": null, "orient": "none", "legendX": 223, "legendY": 77, "labelExpr": "split(datum.label, '|')"}},
        "strokeDash": {"field": "s", "type": "nominal", "scale": {"domain": ["生产性服务企业", "所有服务企业第95个|百分位集聚水平", "所有服务企业第5个|百分位集聚水平"], "range": [[1, 0], [14, 5], [4, 4]]}, "legend": {"title": null, "orient": "none", "legendX": 223, "legendY": 77, "labelExpr": "split(datum.label, '|')"}}
      }
    },
    {
      "width": 461, "height": 253,
      "data": {"name": "d"},
      "title": {"text": "d.2014年"},
      "mark": {"type": "line", "interpolate": "linear", "strokeWidth": 2.2},
      "encoding": {
        "x": {"field": "x", "type": "quantitative", "scale": {"domain": [0, 33], "nice": false}, "axis": {"values": [0, 5, 10, 15, 20, 25, 30], "title": "距离/km"}},
        "y": {"field": "y", "type": "quantitative", "scale": {"domain": [0, 0.35], "nice": false}, "axis": {"values": [0, 0.05, 0.1, 0.15, 0.2, 0.25, 0.3, 0.35], "title": "核密度", "labelExpr": "datum.value === 0 ? '0' : format(datum.value, '.2f')"}},
        "color": {"field": "s", "type": "nominal", "scale": {"domain": ["生产性服务企业", "所有服务企业第95个|百分位集聚水平", "所有服务企业第5个|百分位集聚水平"], "range": ["#7c5ba6", "#231f20", "#231f20"]}, "legend": {"title": null, "orient": "none", "legendX": 223, "legendY": 77, "labelExpr": "split(datum.label, '|')"}},
        "strokeDash": {"field": "s", "type": "nominal", "scale": {"domain": ["生产性服务企业", "所有服务企业第95个|百分位集聚水平", "所有服务企业第5个|百分位集聚水平"], "range": [[1, 0], [14, 5], [4, 4]]}, "legend": {"title": null, "orient": "none", "legendX": 223, "legendY": 77, "labelExpr": "split(datum.label, '|')"}}
      }
    }
  ],
  "config": {
    "view": {"stroke": null},
    "font": "Liberation Serif, Noto Sans CJK SC",
    "axis": {
      "grid": false,
      "domainColor": "#555555",
      "tickColor": "#555555",
      "tickSize": 4,
      "labelFont": "Liberation Serif, Noto Sans CJK SC",
      "labelFontSize": 16,
      "labelColor": "#333333",
      "labelPadding": 7,
      "titleFont": "Liberation Serif, Noto Sans CJK SC",
      "titleFontSize": 15,
      "titleFontWeight": "normal",
      "titleColor": "#333333"
    },
    "axisX": {"labelPadding": 9, "titlePadding": 10, "titleX": 214},
    "axisY": {"titlePadding": 14},
    "legend": {
      "symbolType": "stroke",
      "symbolSize": 1444,
      "symbolStrokeWidth": 2.5,
      "labelFont": "Liberation Serif, Noto Sans CJK SC",
      "labelFontSize": 14,
      "labelColor": "#333333",
      "labelLimit": 400,
      "labelOffset": 8,
      "gridAlign": "all",
      "rowPadding": 0
    },
    "title": {
      "anchor": "end",
      "offset": -29,
      "dx": -25,
      "font": "Liberation Serif, Noto Sans CJK SC",
      "fontSize": 15,
      "fontWeight": "normal",
      "color": "#333333"
    }
  }
}
